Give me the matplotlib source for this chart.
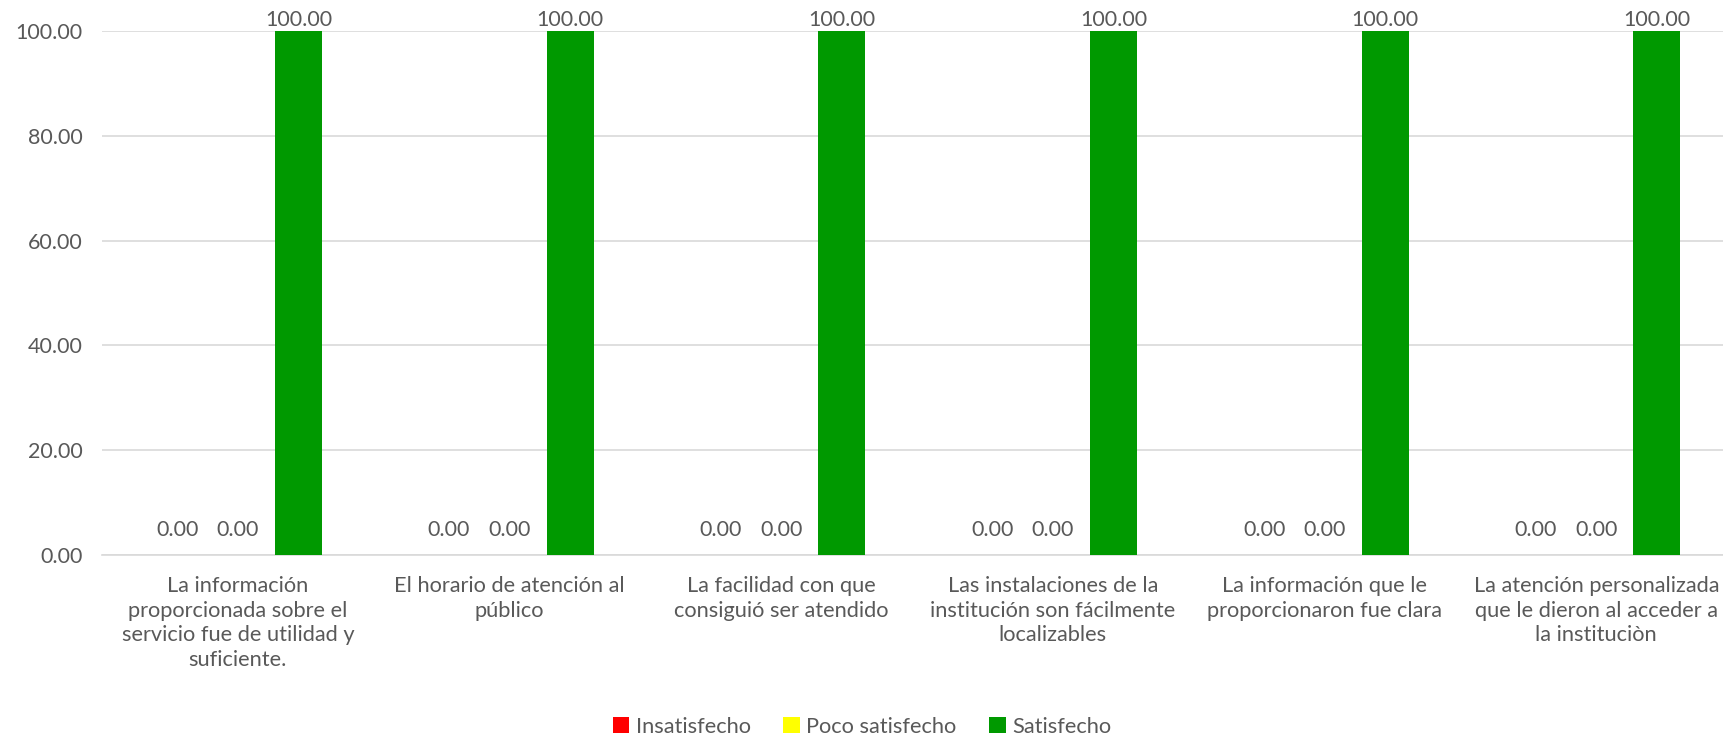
import numpy as np
import matplotlib
matplotlib.use("Agg")
from matplotlib import pyplot as plt
from matplotlib.patches import Patch

plt.rcParams['font.family'] = ['Lato', 'DejaVu Sans']

categories = [
	"La información\nproporcionada sobre el\nservicio fue de utilidad y\nsuficiente.",
	"El horario de atención al\npúblico",
	"La facilidad con que\nconsiguió ser atendido",
	"Las instalaciones de la\ninstitución son fácilmente\nlocalizables",
	"La información que le\nproporcionaron fue clara",
	"La atención personalizada\nque le dieron al acceder a\nla instituciòn",
]
insatisfecho = [0.0, 0.0, 0.0, 0.0, 0.0, 0.0]
poco_satisfecho = [0.0, 0.0, 0.0, 0.0, 0.0, 0.0]
satisfecho = [100.0, 100.0, 100.0, 100.0, 100.0, 100.0]

series = [
	("Insatisfecho", insatisfecho, "#FF0000"),
	("Poco satisfecho", poco_satisfecho, "#FFFF00"),
	("Satisfecho", satisfecho, "#009900"),
]

TEXT = "#595959"
GRID = "#D9D9D9"
NUM_SIZE = 15.5
WORD_SIZE = 15.7

fig = plt.figure(figsize=(17.24, 7.38), dpi=100)
ax = fig.add_axes([102 / 1724, 1 - 555 / 738, 1 - 102 / 1724, (555 - 31) / 738])

x = np.arange(len(categories))
width = 0.173
step = 0.2228

for i, (name, vals, color) in enumerate(series):
	pos = x + (i - 1) * step
	ax.bar(pos, vals, width, color=color, label=name, zorder=3)
	for xp, v in zip(pos, vals):
		# labels on full-height bars are kept inside the plot area
		off = 1 if v >= 100 else 11
		ax.annotate(f"{v:.2f}", (xp, v), xytext=(0, off), textcoords="offset points",
					ha="center", va="bottom", fontsize=NUM_SIZE, color=TEXT)

ax.set_ylim(0, 100)
ax.set_xlim(-0.5, 5.47)
ax.set_yticks(np.arange(0, 101, 20))
ax.set_yticklabels([f"{t:.2f}" for t in np.arange(0, 101, 20)], fontsize=NUM_SIZE, color=TEXT)
ax.set_xticks(x)
ax.set_xticklabels(categories, fontsize=WORD_SIZE, color=TEXT, linespacing=1.3, va="top")
ax.tick_params(axis="both", length=0)
ax.tick_params(axis="y", pad=14)
ax.tick_params(axis="x", pad=15)
ax.yaxis.grid(True, color=GRID, linewidth=1.2, zorder=0)
for side in ["top", "right", "left"]:
	ax.spines[side].set_visible(False)
ax.spines["bottom"].set_color(GRID)
ax.spines["bottom"].set_linewidth(1.2)

handles = [Patch(facecolor=c, label=n) for n, _, c in series]
fig.legend(handles=handles, loc="center", bbox_to_anchor=(0.5, 1 - 727 / 738), ncol=3,
		   frameon=False, fontsize=WORD_SIZE, labelcolor=TEXT, handlelength=0.75, handleheight=0.75,
		   handletextpad=0.3, columnspacing=1.5)

fig.savefig("out.png", dpi=100)
